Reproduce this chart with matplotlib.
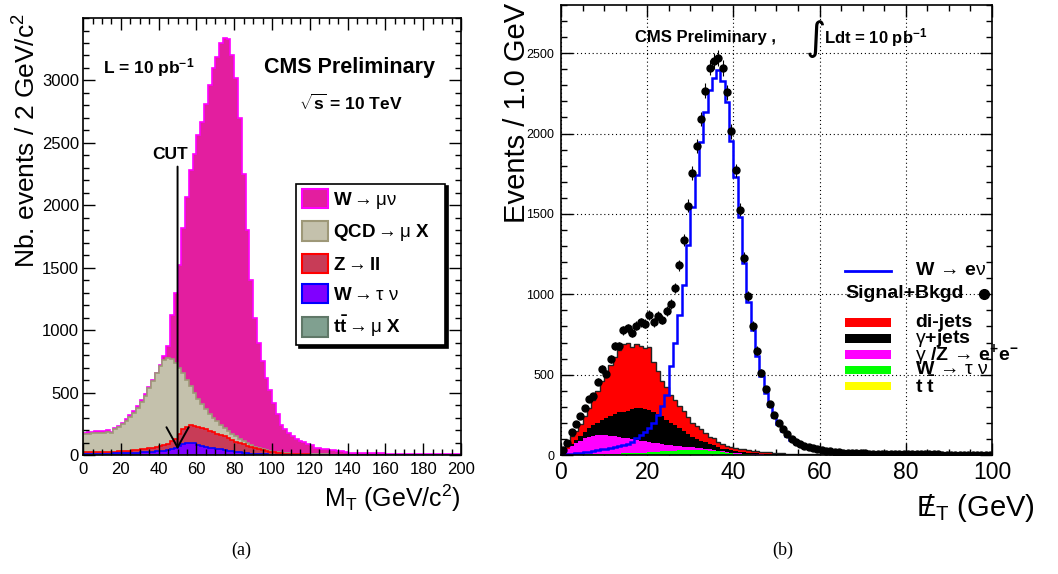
import numpy as np
import matplotlib
matplotlib.use("Agg")
import matplotlib.pyplot as plt
from matplotlib.patches import Patch, Rectangle
from matplotlib.ticker import MultipleLocator, FixedLocator

plt.rcParams['font.family'] = ['Liberation Sans', 'DejaVu Sans']
plt.rcParams['mathtext.fontset'] = 'custom'
plt.rcParams['mathtext.rm'] = 'Liberation Sans'
plt.rcParams['mathtext.bf'] = 'Liberation Sans:bold'
plt.rcParams['mathtext.it'] = 'Liberation Sans:italic'
plt.rcParams['mathtext.default'] = 'rm'

# ---- (a) transverse mass, 2 GeV bins, 0-200 (stack tops as drawn) ----
mt_edges = np.arange(0, 202, 2)
cut_mt = 50

top_wmunu = [180, 185, 188, 190, 192, 195, 198, 188, 215, 235,
             260, 290, 320, 355, 395, 440, 490, 545, 600, 660,
             720, 790, 870, 1120, 1300, 1523, 1816, 2064, 2280, 2408,
             2560, 2664, 2808, 2960, 3096, 3184, 3296, 3344, 3330, 3200,
             3020, 2700, 2250, 1800, 1400, 1100, 900, 750, 620, 520,
             420, 330, 240, 210, 180, 155, 130, 112, 102, 85,
             78, 60, 53, 50, 45, 40, 38, 32, 30, 22,
             20, 19, 19, 18, 18, 17, 16, 14, 13, 13,
             12, 10, 10, 9, 9, 9, 8, 8, 8, 8,
             7, 7, 7, 7, 6, 6, 6, 6, 5, 5]
top_qcd = [170, 172, 174, 176, 178, 180, 182, 180, 205, 222,
           248, 275, 305, 340, 380, 425, 475, 535, 595, 655,
           715, 760, 780, 770, 735, 700, 655, 600, 550, 500,
           450, 405, 365, 330, 300, 270, 243, 215, 190, 170,
           150, 128, 110, 95, 80, 66, 55, 46, 38, 31,
           26, 22, 18, 15, 13, 11, 10, 9, 8, 7,
           6, 6, 5, 5, 5, 4, 4, 4, 4, 3,
           3, 3, 3, 3, 3, 2, 2, 2, 2, 2,
           2, 2, 2, 2, 2, 2, 2, 1, 1, 1,
           1, 1, 1, 1, 1, 1, 1, 1, 1, 1]
top_zll = [22, 22, 23, 24, 25, 25, 26, 27, 28, 30,
           32, 34, 36, 38, 42, 45, 50, 55, 60, 65,
           72, 80, 92, 110, 125, 170, 205, 225, 240, 232,
           222, 214, 205, 195, 185, 172, 160, 150, 135, 120,
           108, 95, 85, 75, 65, 55, 46, 40, 33, 28,
           22, 18, 15, 12, 10, 8, 7, 6, 5, 5,
           4, 4, 4, 3, 3, 3, 3, 3, 2, 2,
           2, 2, 2, 2, 2, 2, 2, 2, 2, 2,
           1, 1, 1, 1, 1, 1, 1, 1, 1, 1,
           1, 1, 1, 1, 1, 1, 1, 1, 1, 1]
top_wtau = [10, 10, 10, 10, 11, 11, 12, 12, 13, 14,
            15, 16, 17, 18, 20, 22, 24, 26, 28, 30,
            32, 35, 40, 45, 55, 75, 90, 98, 100, 95,
            80, 72, 65, 60, 55, 50, 45, 40, 35, 30,
            26, 22, 18, 15, 12, 10, 8, 6, 5, 4,
            3, 3, 3, 2, 2, 2, 2, 2, 2, 2,
            1, 1, 1, 1, 1, 1, 1, 1, 1, 1,
            1, 1, 1, 1, 1, 1, 1, 1, 1, 1,
            1, 1, 1, 1, 1, 1, 1, 1, 1, 1,
            1, 1, 1, 1, 1, 1, 1, 1, 1, 1]
top_ttbar_a = [3] * 20 + [4] * 20 + [3] * 10 + [1] * 50

# ---- (b) missing ET, 1 GeV bins, 0-100 ----
met_edges = np.arange(0, 101, 1)

top_dijets = [35, 70, 120, 150, 190, 240, 290, 340, 400, 460,
              510, 560, 610, 655, 690, 700, 670, 690, 680, 665,
              670, 580, 520, 460, 425, 375, 345, 305, 275, 235,
              200, 180, 160, 135, 115, 105, 80, 70, 55, 50,
              45, 40, 35, 30, 28, 25, 20, 18, 20, 14,
              12, 10, 9, 8, 7, 6, 5, 5, 4, 4,
              3, 3, 3, 3, 2, 2, 2, 2, 2, 2] + [1] * 30
top_gjets = [20, 40, 70, 95, 120, 145, 165, 185, 200, 215,
             230, 245, 255, 265, 270, 275, 285, 290, 290, 285,
             280, 270, 255, 240, 220, 200, 185, 170, 150, 130,
             115, 100, 90, 80, 70, 60, 50, 40, 35, 30,
             25, 20, 18, 15, 12, 10, 8, 7, 6, 5,
             4, 4, 3, 3, 3, 2, 2, 2, 2, 2] + [1] * 40
top_zee = [15, 35, 57, 72, 88, 104, 115, 120, 125, 125,
           123, 120, 118, 112, 108, 104, 100, 95, 90, 85,
           80, 76, 72, 68, 64, 60, 57, 55, 52, 50,
           48, 45, 42, 38, 35, 30, 26, 22, 18, 15,
           12, 10, 8, 7, 6, 5, 4, 3, 3, 2,
           2, 2, 2, 1, 1, 1, 1, 1, 1, 1] + [0] * 40
top_wtaunu = [2, 3, 3, 4, 4, 5, 5, 6, 6, 7,
              7, 8, 8, 9, 10, 11, 12, 13, 14, 15,
              16, 18, 20, 22, 24, 26, 28, 30, 32, 33,
              34, 33, 32, 30, 28, 25, 22, 18, 14, 10,
              8, 6, 5, 4, 3, 3, 2, 2, 2, 1] + [0] * 50
top_ttbar_b = [1] * 50 + [0] * 50

w_enu = [4, 6, 8, 10, 13, 17, 21, 25, 30, 35,
         40, 45, 50, 55, 62, 70, 83, 104, 124, 145,
         166, 197, 248, 304, 375, 555, 700, 870, 1058, 1304,
         1542, 1745, 1946, 2132, 2271, 2346, 2395, 2330, 2195, 1956,
         1730, 1484, 1192, 954, 778, 613, 489, 385, 302, 235,
         190, 150, 118, 95, 78, 64, 53, 44, 37, 31,
         26, 22, 19, 17, 15, 13, 12, 11, 10, 9,
         8, 7, 7, 6, 6, 6, 5, 5, 5, 4,
         4, 4, 4, 3, 3, 3, 3, 3, 3, 3,
         2, 2, 2, 2, 2, 2, 2, 2, 2, 2]
signal_bkgd = [30, 75, 145, 195, 240, 290, 350, 365, 455, 535,
               505, 595, 680, 678, 775, 790, 760, 805, 825, 818,
               870, 825, 868, 842, 895, 940, 1040, 1180, 1340, 1552,
               1755, 1922, 2090, 2266, 2411, 2449, 2470, 2406, 2257, 2013,
               1771, 1527, 1228, 989, 803, 650, 513, 412, 320, 250,
               200, 160, 128, 100, 84, 70, 58, 48, 41, 35,
               29, 25, 22, 20, 17, 15, 14, 13, 12, 11,
               10, 9, 8, 8, 7, 7, 6, 6, 6, 5,
               5, 5, 5, 4, 4, 4, 4, 4, 3, 3,
               3, 3, 3, 3, 3, 2, 2, 2, 2, 2]


def hist(ax, edges, vals, face, edge=None, lw=1.2):
    ax.stairs(vals, edges, fill=True, color=face, lw=0)
    if edge is not None:
        ax.stairs(vals, edges, color=edge, lw=lw)


def root_axes(ax, xmaj, xmin, ymaj, ymin, ytop):
    ax.xaxis.set_major_locator(MultipleLocator(xmaj))
    ax.xaxis.set_minor_locator(MultipleLocator(xmin))
    ax.yaxis.set_major_locator(FixedLocator(np.arange(0, ytop + 1, ymaj)))
    ax.yaxis.set_minor_locator(MultipleLocator(ymin))
    ax.tick_params(which='both', direction='in', top=True, right=True, width=1)
    ax.tick_params(which='major', length=8.5)
    ax.tick_params(which='minor', length=4.3)
    for s in ax.spines.values():
        s.set_linewidth(1.2)


fig = plt.figure(figsize=(10.58, 5.74), dpi=100)

# ---------------- panel (a) ----------------
ax1 = fig.add_axes([0.0785, 0.2073, 0.3573, 0.7613])
hist(ax1, mt_edges, top_wmunu, '#e31e9f', '#ff00ff')
hist(ax1, mt_edges, top_qcd, '#c4c1ac', '#9e9878')
hist(ax1, mt_edges, top_zll, '#c83c57', '#ff0000')
hist(ax1, mt_edges, top_wtau, '#8000ff', '#0000ff')
hist(ax1, mt_edges, top_ttbar_a, '#80a090', '#607868')
ax1.set_xlim(0, 200)
ax1.set_ylim(0, 3500)
root_axes(ax1, 20, 5, 500, 100, 3000)
ax1.tick_params(axis='y', labelsize=12, pad=3)
ax1.tick_params(axis='x', labelsize=12, pad=5)

ax1.set_ylabel('Nb. events / 2 GeV/c$^{2}$', fontsize=19, ha='right', va='center')
ax1.yaxis.set_label_coords(-0.148, 1.012)
ax1.set_xlabel('M$_{\\mathrm{T}}$ (GeV/c$^{2}$)', fontsize=18, ha='right', va='center')
ax1.xaxis.set_label_coords(1.0, -0.098)

ax1.text(0.175, 0.886, 'L = 10 pb$^{\\mathbf{-1}}$', transform=ax1.transAxes,
         fontsize=12.5, fontweight='bold', ha='center', va='center')
ax1.text(0.706, 0.886, 'CMS Preliminary', transform=ax1.transAxes,
         fontsize=15.5, fontweight='bold', ha='center', va='center')
ax1.text(0.709, 0.805, '$\\sqrt{\\mathbf{s}}$ = 10 TeV', transform=ax1.transAxes,
         fontsize=12.5, fontweight='bold', ha='center', va='center')
ax1.text(cut_mt - 4, 2350, 'CUT', fontsize=12.5, fontweight='bold', ha='center', va='bottom')
ax1.annotate('', xy=(cut_mt, 45), xytext=(cut_mt, 2310),
             arrowprops=dict(arrowstyle='->,head_length=1.45,head_width=0.8',
                             lw=1.4, color='black', shrinkA=0, shrinkB=0,
                             mutation_scale=10))

handles = [Patch(facecolor='#e31e9f', edgecolor='#ff00ff', lw=1.5),
           Patch(facecolor='#c4c1ac', edgecolor='#9e9878', lw=1.5),
           Patch(facecolor='#c83c57', edgecolor='#ff0000', lw=1.5),
           Patch(facecolor='#8000ff', edgecolor='#0000ff', lw=1.5),
           Patch(facecolor='#80a090', edgecolor='#607868', lw=1.5)]
labels = ['W$\\rightarrow\\mu\\nu$',
          'QCD$\\rightarrow\\mu$ X',
          'Z$\\rightarrow$ll',
          'W$\\rightarrow\\tau\\ \\nu$',
          '$\\mathbf{t\\bar{t}}\\rightarrow\\mu$ X']
leg = ax1.legend(handles, labels, loc='lower left',
                 bbox_to_anchor=(0.563, 0.252, 0.395, 0.364), mode='expand',
                 borderaxespad=0, fancybox=False, edgecolor='black', framealpha=1,
                 shadow={'color': 'black', 'alpha': 1},
                 handlelength=1.4, handleheight=1.2, labelspacing=0.55,
                 handletextpad=0.3, borderpad=0.3,
                 prop={'weight': 'bold', 'size': 13.5})
leg.get_frame().set_linewidth(1.2)

# ---------------- panel (b) ----------------
ax2 = fig.add_axes([0.5302, 0.2073, 0.4074, 0.784])
ax2.set_axisbelow(True)
ax2.grid(True, which='major', color='black', linestyle=(0, (1, 2.5)), lw=0.8)
hist(ax2, met_edges, top_dijets, '#ff0000', '#222222', lw=1.0)
hist(ax2, met_edges, top_gjets, '#000000')
hist(ax2, met_edges, top_zee, '#ff00ff')
hist(ax2, met_edges, top_wtaunu, '#00ff00')
hist(ax2, met_edges, top_ttbar_b, '#ffff00')
ax2.stairs(w_enu, met_edges, color='#0000ff', lw=1.8, baseline=None)
centers = 0.5 * (met_edges[:-1] + met_edges[1:])
data = np.array(signal_bkgd, dtype=float)
ax2.errorbar(centers, data, yerr=np.sqrt(data), fmt='o', color='black',
             ms=5, elinewidth=0.8, capsize=0, zorder=5)
ax2.set_xlim(0, 100)
ax2.set_ylim(0, 2800)
root_axes(ax2, 20, 5, 500, 100, 2500)
ax2.tick_params(axis='y', labelsize=9, pad=5)
ax2.tick_params(axis='x', labelsize=16.5, pad=4)

ax2.set_ylabel('Events / 1.0 GeV', fontsize=21, ha='right', va='center')
ax2.yaxis.set_label_coords(-0.102, 1.004)
ax2.set_xlabel('$/\\!\\!\\!\\!E_{\\mathrm{T}}$ (GeV)', fontsize=21, ha='right', va='center')
ax2.xaxis.set_label_coords(1.10, -0.118)

ax2.text(0.172, 0.927, 'CMS Preliminary ,', transform=ax2.transAxes,
         fontsize=12, fontweight='bold', ha='left', va='center')
ax2.text(0.592, 0.924, '\u222b', transform=ax2.transAxes, family='DejaVu Sans',
         fontsize=28, ha='center', va='center')
ax2.text(0.610, 0.927, 'Ldt = 10 pb$^{\\mathbf{-1}}$', transform=ax2.transAxes,
         fontsize=12, fontweight='bold', ha='left', va='center')

# legend of panel (b), drawn ROOT-style without a box
lx0, lx1, tx = 0.659, 0.766, 0.821
ax2.plot([lx0, lx1], [0.409, 0.409], transform=ax2.transAxes, color='#0000ff', lw=2)
ax2.text(tx, 0.409, 'W$\\,\\rightarrow\\,$e$\\nu$', transform=ax2.transAxes,
         fontsize=14, fontweight='bold', va='center')
ax2.text(0.661, 0.358, 'Signal+Bkgd', transform=ax2.transAxes,
         fontsize=14, fontweight='bold', va='center')
ax2.plot([0.981], [0.358], 'o', transform=ax2.transAxes, color='black', ms=7, clip_on=False)
bkg_entries = [('#ff0000', 'di-jets', 0.294),
               ('#000000', '$\\gamma$+jets', 0.259),
               ('#ff00ff', '$\\gamma$ /Z$\\,\\rightarrow\\,$e$^{\\mathbf{+}}$e$^{\\mathbf{-}}$', 0.223),
               ('#00ff00', 'W$\\,\\rightarrow\\,\\tau\\ \\nu$', 0.189),
               ('#ffff00', '$\\mathbf{t\\ \\bar{t}}$', 0.153)]
for col, lab, yy in bkg_entries:
    ax2.add_patch(Rectangle((lx0, yy - 0.0095), lx1 - lx0, 0.019, transform=ax2.transAxes,
                            facecolor=col, edgecolor='none'))
    ax2.text(tx, yy, lab, transform=ax2.transAxes, fontsize=14, fontweight='bold', va='center')

fig.text(0.228, 0.042, '(a)', family='Liberation Serif', fontsize=13, ha='center', va='center')
fig.text(0.740, 0.042, '(b)', family='Liberation Serif', fontsize=13, ha='center', va='center')

fig.savefig('out.png', dpi=100)
